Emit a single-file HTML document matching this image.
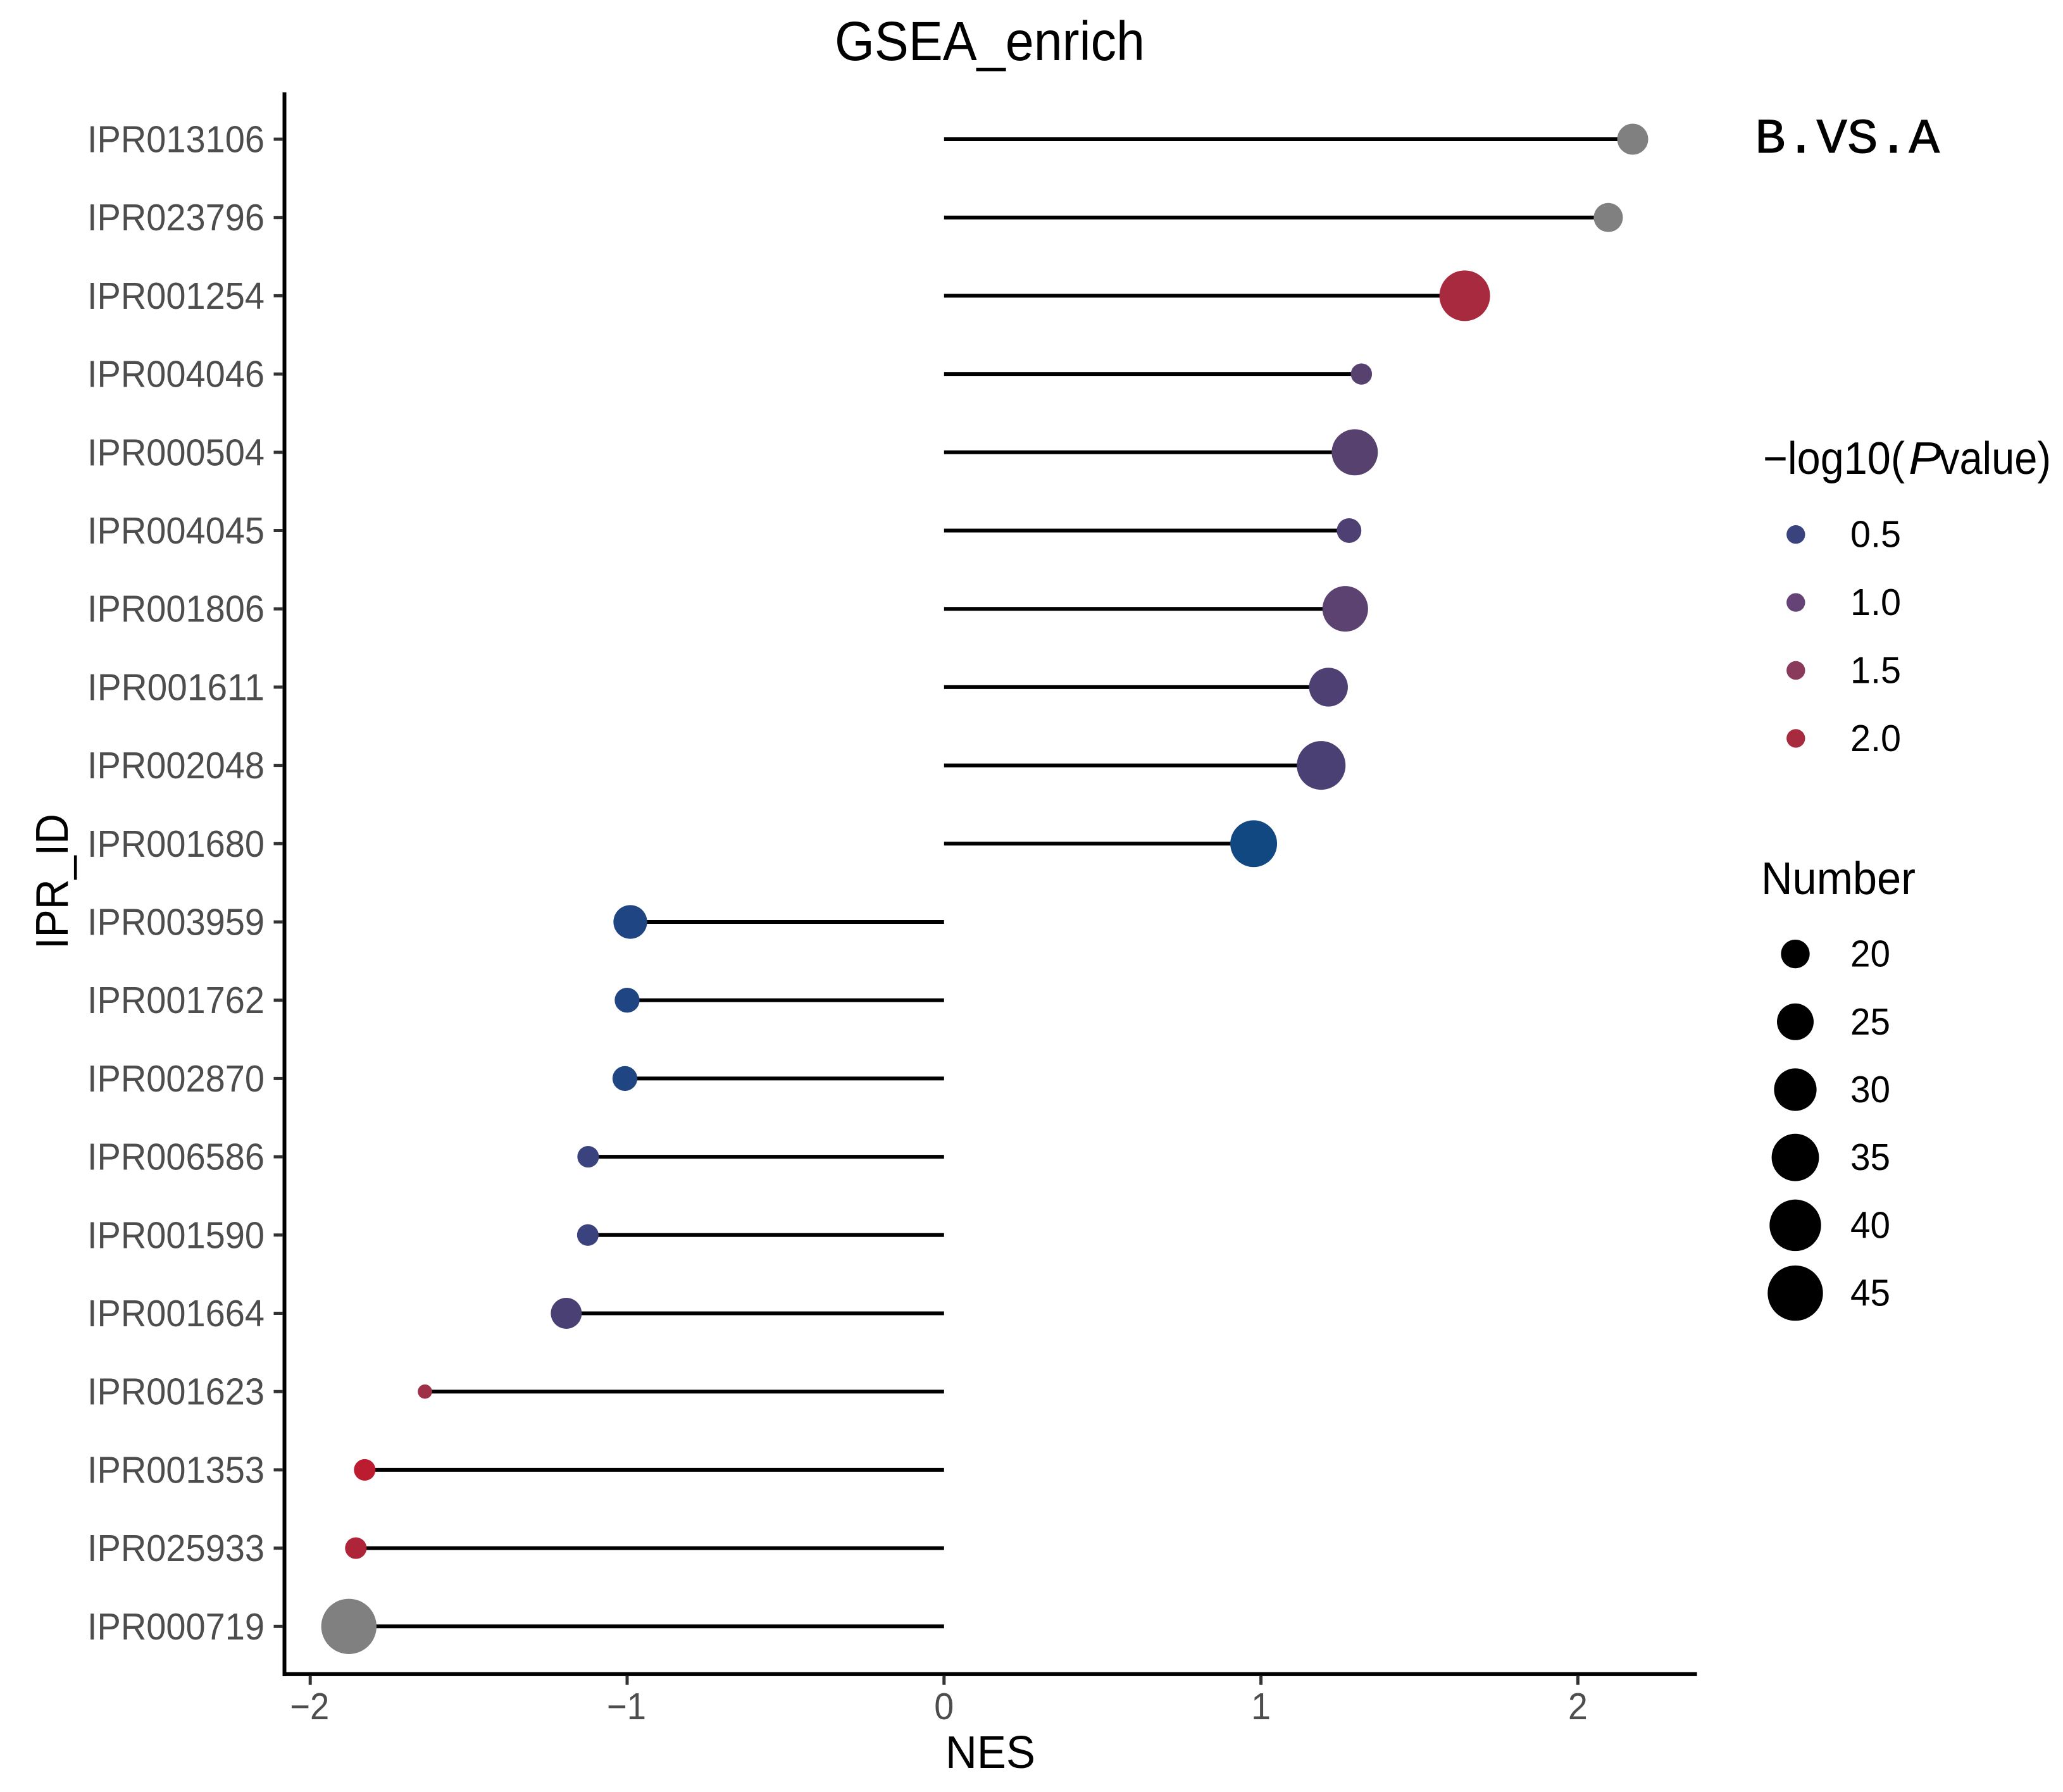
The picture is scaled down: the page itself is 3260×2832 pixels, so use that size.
<!DOCTYPE html>
<html lang="en">
<head>
<meta charset="utf-8">
<title>GSEA_enrich</title>
<style>
html,body{margin:0;padding:0;background:#fff;}
svg{display:block;font-family:"Liberation Sans",sans-serif;}
</style>
</head>
<body>
<svg id="chart" xmlns="http://www.w3.org/2000/svg" width="3260" height="2832" viewBox="0 0 3260 2832">
  <rect x="0" y="0" width="3260" height="2832" fill="#ffffff"/>
  <text x="1319" y="95" font-size="87" textLength="490" lengthAdjust="spacingAndGlyphs" fill="#000">GSEA_enrich</text>
  <text transform="translate(107,1500) rotate(-90)" font-size="72" textLength="214" lengthAdjust="spacingAndGlyphs" fill="#000">IPR_ID</text>
  <text x="1494" y="2794" font-size="72" textLength="142" lengthAdjust="spacingAndGlyphs" fill="#000">NES</text>
  <text x="2773" y="241" font-family="'Liberation Mono',monospace" font-size="78" textLength="292" lengthAdjust="spacingAndGlyphs" fill="#000" stroke="#000" stroke-width="1">B.VS.A</text>
  <g fill="#000" font-size="72">
    <text x="2786" y="749" textLength="224" lengthAdjust="spacingAndGlyphs">&#8722;log10(</text>
    <text x="3016" y="749" font-style="italic" textLength="52" lengthAdjust="spacingAndGlyphs">P</text>
    <text x="3064" y="749" textLength="177" lengthAdjust="spacingAndGlyphs">value)</text>
  </g>
  <text x="2783" y="1413" font-size="72" textLength="244" lengthAdjust="spacingAndGlyphs" fill="#000">Number</text>
  <g id="lollipops"></g>
  <g id="axes"></g>
  <g id="legends"></g>
</svg>
<script>
// ---- chart data (top row to bottom row) ----
const categories = ['IPR013106','IPR023796','IPR001254','IPR004046','IPR000504','IPR004045','IPR001806','IPR001611','IPR002048','IPR001680','IPR003959','IPR001762','IPR002870','IPR006586','IPR001590','IPR001664','IPR001623','IPR001353','IPR025933','IPR000719'];
const nesValues = [2.173,2.096,1.643,1.317,1.296,1.278,1.266,1.213,1.19,0.977,-0.99,-1.0,-1.007,-1.123,-1.124,-1.192,-1.638,-1.828,-1.856,-1.878];
const numberValues = [21.2,20.2,38.9,17.3,33.7,18.3,33.1,26.7,36.6,34.4,22.9,18.4,18.4,17.4,17.4,21.2,16.5,17.4,17.4,45];
const logPValues = [null,null,2.0,0.85,0.85,0.75,0.9,0.75,0.7,0.2,0.35,0.35,0.35,0.5,0.5,0.7,1.75,2.35,2.15,null];
const xTicks = [-2,-1,0,1,2];
const colorLegendValues = [0.5,1.0,1.5,2.0];
const sizeLegendValues = [20,25,30,35,40,45];
const colorStopValues = [0.2,0.35,0.5,0.7,0.85,1.0,1.5,1.75,2.0,2.15,2.35];
const colorStopHex = ['#124882','#1f4583','#3b437f','#4a4074','#56416f','#664376','#8a3a5a','#9e3148','#a82a3f','#ae2438','#bc1c30'];

// ---- scales ----
const SVGNS = 'http://www.w3.org/2000/svg';
function xScale(v){ return 1491.8 + 500.8 * v; }
function yScale(i){ return 220 + 123.7 * i; }
function rScale(n){ return 11.3 + 32.4 * Math.sqrt(Math.max(0, n - 16.5) / 28.5); }
function hexToRgb(h){ return [1,3,5].map(function(k){ return parseInt(h.substr(k,2),16); }); }
function colorScale(v){
  if (v === null) return '#808080';
  if (v <= colorStopValues[0]) return colorStopHex[0];
  for (let k = 1; k < colorStopValues.length; k++) {
    if (v <= colorStopValues[k]) {
      const t = (v - colorStopValues[k-1]) / (colorStopValues[k] - colorStopValues[k-1]);
      const a = hexToRgb(colorStopHex[k-1]);
      const b = hexToRgb(colorStopHex[k]);
      return 'rgb(' + a.map(function(c,j){ return Math.round(c + (b[j]-c)*t); }).join(',') + ')';
    }
  }
  return colorStopHex[colorStopHex.length-1];
}
function mk(tag, parent, attrs){
  const el = document.createElementNS(SVGNS, tag);
  Object.keys(attrs).forEach(function(k){ el.setAttribute(k, attrs[k]); });
  parent.appendChild(el);
  return el;
}

const gLolli = document.getElementById('lollipops');
const gAxes = document.getElementById('axes');
const gLeg = document.getElementById('legends');

// ---- axis lines ----
const yLine = mk('line', gAxes, {x1:449.5,y1:146,x2:449.5,y2:2649,stroke:'#000','stroke-width':6});


const xLine = mk('line', gAxes, {x1:446.5,y1:2645.7,x2:2681.6,y2:2645.7,stroke:'#000','stroke-width':6.4});



// ---- y ticks, labels and lollipops ----
categories.forEach(function(id, i){
  const y = yScale(i);
  const tick = mk('line', gAxes, {x1:432.5,y1:y,x2:447,y2:y,stroke:'#333333','stroke-width':5});
  
  
  const label = mk('text', gAxes, {x:138,y:y+20.5,'font-size':59,fill:'#4d4d4d',textLength:280,lengthAdjust:'spacingAndGlyphs'});
  label.textContent = id;
  
  
  const stem = mk('line', gLolli, {x1:xScale(0),y1:y,x2:xScale(nesValues[i]),y2:y,stroke:'#000','stroke-width':6});
  
  
  const dot = mk('circle', gLolli, {cx:xScale(nesValues[i]),cy:y,r:rScale(numberValues[i]),fill:colorScale(logPValues[i])});
  
  
});

// ---- x ticks ----
xTicks.forEach(function(v){
  const x = xScale(v);
  const tick = mk('line', gAxes, {x1:x,y1:2648,x2:x,y2:2662.7,stroke:'#333333','stroke-width':5});
  
  
  const txt = (v < 0 ? '\u2212' : '') + Math.abs(v);
  const label = mk('text', gAxes, {x:v < 0 ? x - 1 : x,y:2717,'font-size':59,fill:'#4d4d4d','text-anchor':'middle',textLength:v < 0 ? 62 : 31,lengthAdjust:'spacingAndGlyphs'});
  label.textContent = txt;
  
  
});

// ---- colour legend ----
colorLegendValues.forEach(function(v, i){
  const y = 844.7 + 107.4 * i;
  const dot = mk('circle', gLeg, {cx:2837.8,cy:y,r:14.7,fill:colorScale(v)});
  
  
  const label = mk('text', gLeg, {x:2924,y:y+20,'font-size':59,fill:'#000',textLength:80,lengthAdjust:'spacingAndGlyphs'});
  label.textContent = v.toFixed(1);
  
  
});

// ---- size legend ----
sizeLegendValues.forEach(function(v, i){
  const y = 1507.6 + 107.2 * i;
  const dot = mk('circle', gLeg, {cx:2837,cy:y,r:rScale(v),fill:'#000'});
  
  
  const label = mk('text', gLeg, {x:2924,y:y+20,'font-size':59,fill:'#000',textLength:63,lengthAdjust:'spacingAndGlyphs'});
  label.textContent = String(v);
  
  
});
</script>
</body>
</html>
